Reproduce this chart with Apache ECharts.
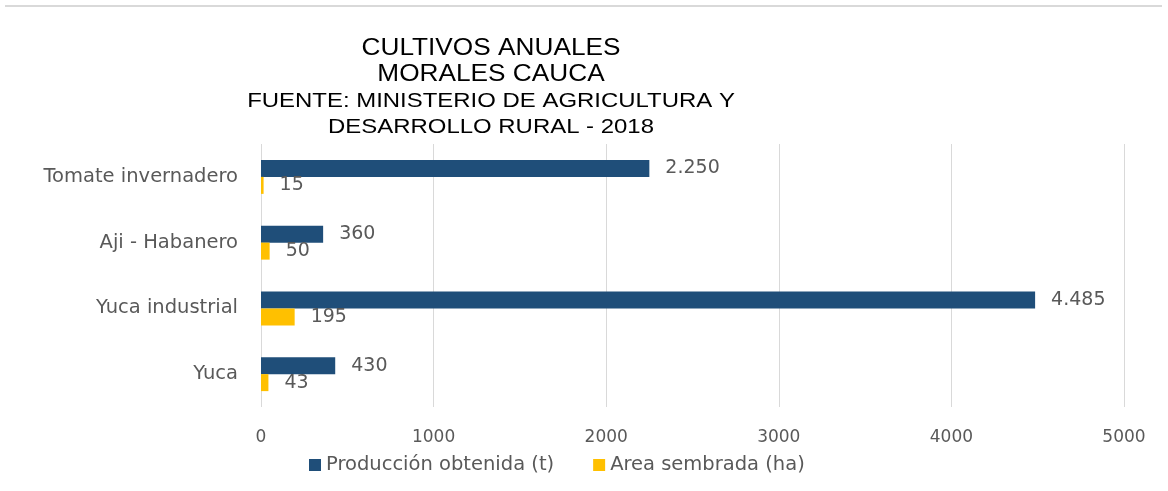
<!DOCTYPE html>
<html>
<head>
<meta charset="utf-8">
<script src="https://cdn.jsdelivr.net/npm/echarts@6/dist/echarts.min.js"></script>
<style>
html,body{margin:0;padding:0;background:#fff;}
#chart{width:1168px;height:491px;}
</style>
</head>
<body>
<div id="chart"></div>
<script>
var categories = ['Tomate invernadero', 'Aji - Habanero', 'Yuca industrial', 'Yuca'];
var produccion = [2250, 360, 4485, 430];
var area = [15, 50, 195, 43];
var seriesNames = ['Producción obtenida (t)', 'Area sembrada (ha)'];
var xTicks = [0, 1000, 2000, 3000, 4000, 5000];
var titleLines = ['CULTIVOS ANUALES', 'MORALES CAUCA', 'FUENTE: MINISTERIO DE AGRICULTURA Y', 'DESARROLLO RURAL - 2018'];

function fmt(v) {
  return String(v).replace(/\B(?=(\d{3})+(?!\d))/g, '.');
}

var chart = echarts.init(document.getElementById('chart'));
var labelFont = '"DejaVu Sans", sans-serif';
var option = {
  backgroundColor: '#ffffff',
  animation: false,
  graphic: [
    { type: 'line', shape: { x1: 5, y1: 6, x2: 1162, y2: 6 }, style: { stroke: '#D9D9D9', lineWidth: 2 } },
    {
      type: 'text', x: 491, y: 36, scaleX: 1.14, scaleY: 1,
      style: {
        text: '{a|' + titleLines[0] + '}\n{a|' + titleLines[1] + '}\n{b|' + titleLines[2] + '}\n{b|' + titleLines[3] + '}',
        align: 'center',
        verticalAlign: 'top',
        fill: '#000',
        rich: {
          a: { fontFamily: '"Liberation Sans", Arial, sans-serif', fontSize: 23, lineHeight: 26, fill: '#000', align: 'center' },
          b: { fontFamily: '"Liberation Sans", Arial, sans-serif', fontSize: 21, lineHeight: 26, fill: '#000', align: 'center' }
        }
      }
    }
  ],
  legend: {
    data: seriesNames,
    left: 304,
    top: 450,
    itemWidth: 12,
    itemHeight: 12,
    itemGap: 39,
    icon: 'rect',
    textStyle: { color: '#595959', fontSize: 19.5, fontFamily: labelFont }
  },
  grid: { left: 261, right: 44, top: 144, bottom: 84, containLabel: false },
  xAxis: {
    type: 'value',
    min: 0, max: 5000, interval: 1000,
    axisLine: { show: false },
    axisTick: { show: false },
    splitLine: { show: true, lineStyle: { color: '#D9D9D9', width: 1 } },
    axisLabel: {
      color: '#595959', fontSize: 17, fontFamily: labelFont, margin: 22,
      formatter: function (v) { return xTicks.indexOf(v) >= 0 ? String(v) : ''; }
    }
  },
  yAxis: {
    type: 'category',
    data: categories,
    inverse: true,
    axisLine: { show: false },
    axisTick: { show: false },
    axisLabel: { color: '#595959', fontSize: 19.5, fontFamily: labelFont, margin: 23 }
  },
  series: [
    {
      name: seriesNames[0], type: 'bar', data: produccion,
      barWidth: 17, barGap: '0%',
      itemStyle: { color: '#1F4E79' },
      label: { show: true, position: 'right', distance: 16, color: '#595959', fontSize: 19, fontFamily: labelFont,
        formatter: function (p) { return fmt(p.value); } }
    },
    {
      name: seriesNames[1], type: 'bar', data: area,
      barWidth: 17, barGap: '0%',
      itemStyle: { color: '#FFC000' },
      label: { show: true, position: 'right', distance: 16, color: '#595959', fontSize: 19, fontFamily: labelFont,
        formatter: function (p) { return fmt(p.value); } }
    }
  ]
};
chart.setOption(option);
</script>
</body>
</html>
